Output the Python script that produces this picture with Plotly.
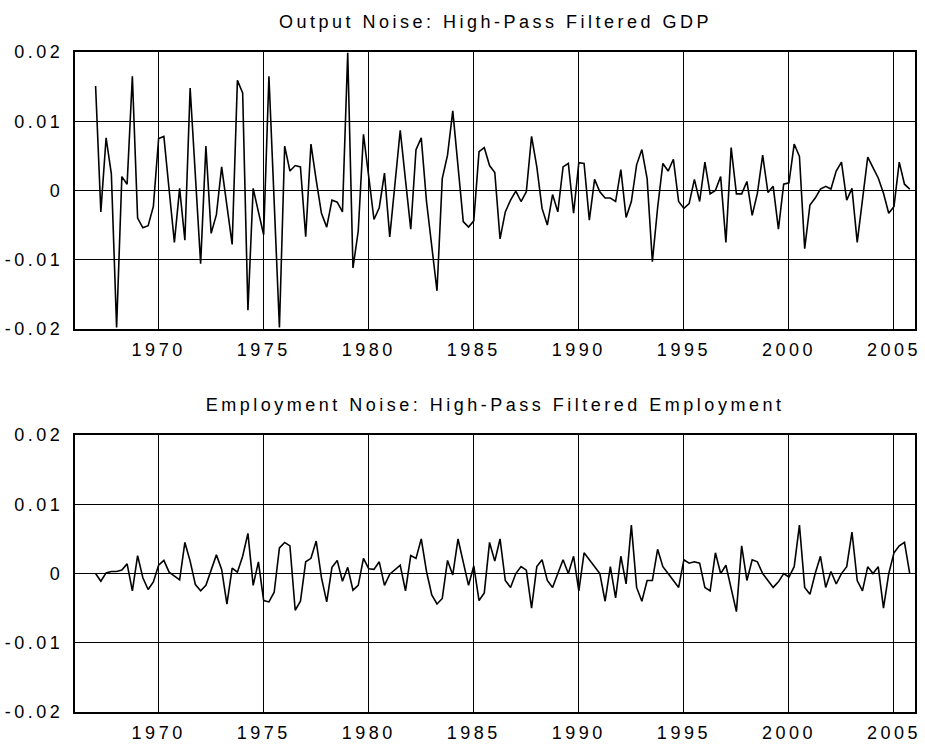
import plotly.graph_objects as go
from plotly.subplots import make_subplots

start_year = 1967
gdp_noise = [
    0.0151, -0.0031, 0.0076, 0.0024, -0.0198, 0.0020, 0.0009, 0.0165, -0.0040, -0.0054,
    -0.0051, -0.0023, 0.0075, 0.0078, 0.0001, -0.0075, 0.0003, -0.0072, 0.0148, 0.0021,
    -0.0106, 0.0064, -0.0062, -0.0035, 0.0034, -0.0022, -0.0078, 0.0159, 0.0141, -0.0173,
    0.0003, -0.0031, -0.0064, 0.0165, -0.0016, -0.0198, 0.0064, 0.0028, 0.0036, 0.0034,
    -0.0067, 0.0067, 0.0015, -0.0033, -0.0053, -0.0014, -0.0017, -0.0031, 0.0199, -0.0112,
    -0.0059, 0.0081, 0.0020, -0.0042, -0.0025, 0.0025, -0.0067, 0.0009, 0.0087, 0.0015,
    -0.0056, 0.0059, 0.0076, -0.0016, -0.0081, -0.0145, 0.0017, 0.0051, 0.0115, 0.0035,
    -0.0045, -0.0053, -0.0044, 0.0056, 0.0062, 0.0036, 0.0026, -0.0070, -0.0031, -0.0014,
    -0.0001, -0.0016, -0.0002, 0.0078, 0.0034, -0.0026, -0.0050, -0.0006, -0.0031, 0.0034,
    0.0039, -0.0033, 0.0040, 0.0039, -0.0043, 0.0016, -0.0002, -0.0011, -0.0011, -0.0016,
    0.0030, -0.0039, -0.0016, 0.0037, 0.0059, 0.0017, -0.0103, -0.0025, 0.0039, 0.0028,
    0.0045, -0.0016, -0.0026, -0.0019, 0.0016, -0.0016, 0.0041, -0.0005, 0.0000, 0.0020,
    -0.0075, 0.0062, -0.0005, -0.0005, 0.0013, -0.0036, -0.0004, 0.0051, -0.0003, 0.0006,
    -0.0056, 0.0009, 0.0011, 0.0067, 0.0049, -0.0084, -0.0021, -0.0011, 0.0002, 0.0006,
    0.0002, 0.0028, 0.0041, -0.0014, 0.0003, -0.0075, -0.0013, 0.0048, 0.0033, 0.0018,
    -0.0004, -0.0033, -0.0023, 0.0041, 0.0009, 0.0002,
]
emp_noise = [
    0.0000, -0.0011, 0.0001, 0.0003, 0.0003, 0.0005, 0.0014, -0.0025, 0.0026, -0.0006,
    -0.0023, -0.0012, 0.0012, 0.0019, 0.0002, -0.0004, -0.0009, 0.0045, 0.0018, -0.0016,
    -0.0025, -0.0017, 0.0006, 0.0027, 0.0006, -0.0044, 0.0008, 0.0002, 0.0025, 0.0058,
    -0.0017, 0.0017, -0.0039, -0.0041, -0.0027, 0.0037, 0.0045, 0.0040, -0.0053, -0.0040,
    0.0017, 0.0022, 0.0047, -0.0006, -0.0041, 0.0009, 0.0019, -0.0011, 0.0009, -0.0024,
    -0.0017, 0.0022, 0.0007, 0.0006, 0.0017, -0.0017, -0.0001, 0.0005, 0.0012, -0.0025,
    0.0026, 0.0022, 0.0050, 0.0003, -0.0031, -0.0044, -0.0036, 0.0019, -0.0002, 0.0050,
    0.0018, -0.0017, 0.0011, -0.0039, -0.0028, 0.0045, 0.0018,
    0.0050, -0.0010, -0.0020, 0.0000, 0.0010, 0.0005, -0.0050, 0.0010, 0.0020, -0.0010,
    -0.0020, 0.0000, 0.0020, 0.0000, 0.0025, -0.0025, 0.0030, 0.0020, 0.0010, 0.0000,
    -0.0040, 0.0010, -0.0035, 0.0025, -0.0015, 0.0070, -0.0020, -0.0040, -0.0010, -0.0010,
    0.0035, 0.0010, 0.0000, -0.0010, -0.0020, 0.0020, 0.0015, 0.0017, 0.0015, -0.0020,
    -0.0025, 0.0030, 0.0000, 0.0012, -0.0020, -0.0055, 0.0040, -0.0010, 0.0020, 0.0017,
    0.0000, -0.0010, -0.0020, -0.0012, 0.0000, -0.0005, 0.0010, 0.0070, -0.0020, -0.0030,
    0.0000, 0.0025, -0.0020, 0.0003, -0.0015, 0.0000, 0.0010, 0.0060, -0.0010, -0.0025,
    0.0010, 0.0000, 0.0010, -0.0050, 0.0000, 0.0030, 0.0040, 0.0045, 0.0000,
]
titles = ["Output Noise: High-Pass Filtered GDP",
          "Employment Noise: High-Pass Filtered Employment"]
ytick_vals = [-0.02, -0.01, 0, 0.01, 0.02]
ytick_text = ["-0.02", "-0.01", "0", "0.01", "0.02"]
xtick_vals = [1970, 1975, 1980, 1985, 1990, 1995, 2000, 2005]

x_gdp = [start_year + i / 4 for i in range(len(gdp_noise))]
x_emp = [start_year + i / 4 for i in range(len(emp_noise))]

FONT = "Liberation Sans, Arial, sans-serif"
FS = 18

fig = make_subplots(rows=2, cols=1, vertical_spacing=0.161)
fig.add_trace(go.Scatter(x=x_gdp, y=gdp_noise, mode="lines", hoverinfo="skip",
                         line=dict(color="black", width=1.6)), row=1, col=1)
fig.add_trace(go.Scatter(x=x_emp, y=emp_noise, mode="lines", hoverinfo="skip",
                         line=dict(color="black", width=1.6)), row=2, col=1)

for r in (1, 2):
    fig.update_xaxes(range=[1966.02, 2006.0], tickvals=xtick_vals,
                     showgrid=True, gridcolor="black", gridwidth=1.3,
                     showline=True, linecolor="black", linewidth=2.2, mirror=True,
                     zeroline=False, ticks="", ticklabelstandoff=3,
                     tickfont=dict(family=FONT, size=FS, color="black"),
                     row=r, col=1)
    fig.update_yaxes(range=[-0.02, 0.02], tickvals=ytick_vals, ticktext=ytick_text,
                     showgrid=True, gridcolor="black", gridwidth=1.3,
                     showline=True, linecolor="black", linewidth=2.2, mirror=True,
                     zeroline=False, ticks="", ticklabelstandoff=6,
                     tickfont=dict(family=FONT, size=FS, color="black"),
                     row=r, col=1)

fig.update_layout(
    width=925, height=751,
    margin=dict(l=75, r=8, t=52, b=34),
    paper_bgcolor="white", plot_bgcolor="white",
    showlegend=False, hovermode=False,
    font=dict(family=FONT, size=FS, color="black"),
)
for i, t in enumerate(titles):
    dom = fig.layout["yaxis" if i == 0 else "yaxis2"].domain
    fig.add_annotation(text=t, xref="paper", yref="paper", x=0.5, y=dom[1],
                       xanchor="center", yanchor="middle", yshift=30, showarrow=False,
                       font=dict(family=FONT, size=FS, color="black"))

post = """
document.body.style.margin = '0';
document.body.style.overflow = 'hidden';
document.querySelectorAll('.xaxislayer-above text, .yaxislayer-above text, .annotation-text').forEach(function(t){
  t.style.letterSpacing = '3.5px';
});
"""
fig.write_html("out.html", post_script=post, config={"displayModeBar": False})
